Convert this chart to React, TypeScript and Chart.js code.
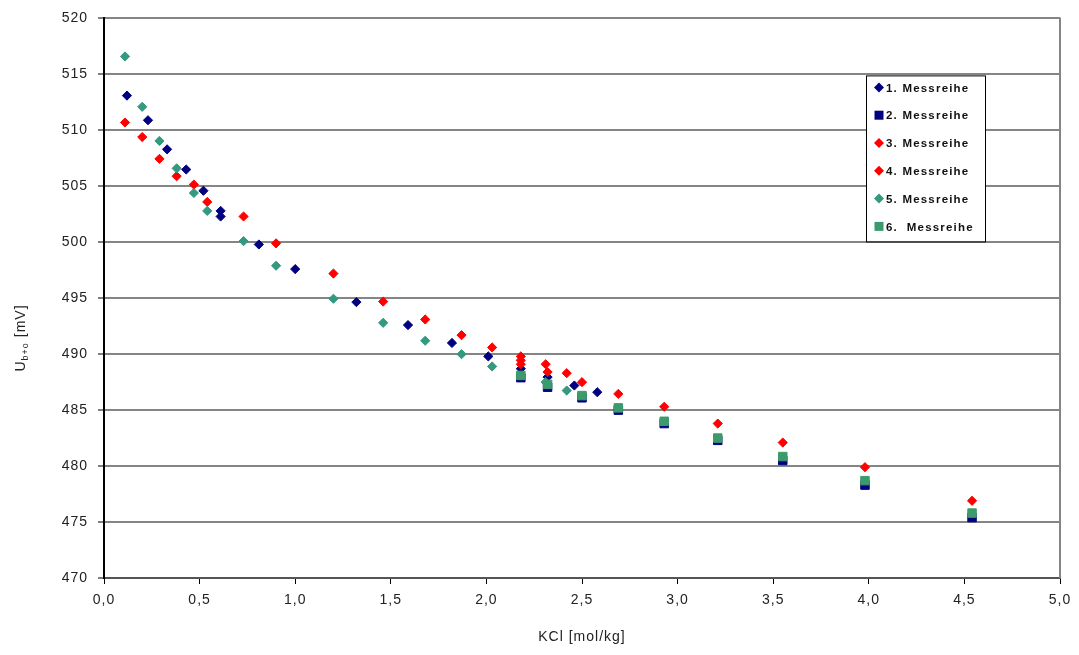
import { useEffect, useRef } from 'react';
import { Chart, registerables } from 'chart.js';

Chart.register(...registerables);

// Series names shown in the legend box
const seriesNames = [
  '1. Messreihe',
  '2. Messreihe',
  '3. Messreihe',
  '4. Messreihe',
  '5. Messreihe',
  '6.  Messreihe',
];

// KCl molality [mol/kg] and measured voltage [mV] for each run
const kcl1 = [0.12, 0.23, 0.33, 0.43, 0.52, 0.61, 0.61, 0.81, 1.0, 1.32, 1.59, 1.82, 2.01, 2.18, 2.32, 2.46, 2.58];
const u1 = [513.1, 510.9, 508.3, 506.5, 504.6, 502.8, 502.3, 499.8, 497.6, 494.65, 492.6, 491.0, 489.8, 488.7, 487.95, 487.2, 486.6];

const kclLate = [2.18, 2.32, 2.5, 2.69, 2.93, 3.21, 3.55, 3.98, 4.54];
const u2 = [487.9, 487.05, 486.1, 485.0, 483.8, 482.3, 480.5, 478.3, 475.4];
const u4 = [489.45, 488.4, 487.5, 486.45, 485.3, 483.8, 482.1, 479.9, 476.9];
const u6 = [488.1, 487.3, 486.3, 485.2, 484.0, 482.5, 480.85, 478.7, 475.8];

const kcl3 = [0.11, 0.2, 0.29, 0.38, 0.47, 0.54, 0.73, 0.9, 1.2, 1.46, 1.68, 1.87, 2.03, 2.18, 2.18, 2.31, 2.42];
const u3 = [510.7, 509.4, 507.45, 505.9, 505.15, 503.6, 502.3, 499.9, 497.2, 494.7, 493.1, 491.7, 490.6, 489.8, 489.1, 489.1, 488.3];

const kcl5 = [0.11, 0.2, 0.29, 0.38, 0.47, 0.54, 0.73, 0.9, 1.2, 1.46, 1.68, 1.87, 2.03, 2.31, 2.42];
const u5 = [516.6, 512.1, 509.05, 506.6, 504.4, 502.8, 500.1, 497.9, 494.95, 492.8, 491.2, 490.0, 488.9, 487.5, 486.75];

// Axis ranges and tick steps
const xRange = [0, 5];
const xStep = 0.5;
const yRange = [470, 520];
const yStep = 5;

const colors = ['#000080', '#000080', '#ff0000', '#ff0000', '#33997f', '#3c9b6c'];
const styles = ['rectRot', 'rect', 'rectRot', 'rectRot', 'rectRot', 'rect'];

const xs = [kcl1, kclLate, kcl3, kclLate, kcl5, kclLate];
const ys = [u1, u2, u3, u4, u5, u6];

const FONT = "'Liberation Sans', Arial, sans-serif";

const decorPlugin = {
  id: 'decor',
  beforeDraw(chart: any) {
    chart.ctx.letterSpacing = '1px';
  },
  afterDraw(chart: any) {
    const { ctx, chartArea } = chart;
    ctx.save();

    // right frame line
    ctx.strokeStyle = '#858585';
    ctx.lineWidth = 2;
    ctx.beginPath();
    ctx.moveTo(chartArea.right, chartArea.top - 1);
    ctx.lineTo(chartArea.right, chartArea.bottom);
    ctx.stroke();

    // y-axis title with subscript
    ctx.fillStyle = '#222';
    ctx.textBaseline = 'alphabetic';
    ctx.textAlign = 'left';
    ctx.letterSpacing = '1px';
    const mainFont = `14px ${FONT}`;
    const subFont = `9px ${FONT}`;
    ctx.font = mainFont;
    const wU = ctx.measureText('U').width;
    const wRest = ctx.measureText(' [mV]').width;
    ctx.font = subFont;
    const wSub = ctx.measureText('b+o').width;
    const total = wU + wSub + wRest;
    ctx.save();
    ctx.translate(25, 338);
    ctx.rotate(-Math.PI / 2);
    let x = -total / 2;
    ctx.font = mainFont;
    ctx.fillText('U', x, 0);
    x += wU;
    ctx.font = subFont;
    ctx.fillText('b+o', x, 3);
    x += wSub;
    ctx.font = mainFont;
    ctx.fillText(' [mV]', x, 0);
    ctx.restore();

    // legend box inside the plot area
    const left = chartArea.right - 194;
    const top = chartArea.top + 57;
    const w = 119;
    const h = 166;
    ctx.fillStyle = '#fff';
    ctx.fillRect(left, top, w, h);
    ctx.strokeStyle = '#000';
    ctx.lineWidth = 1;
    ctx.strokeRect(left + 0.5, top + 0.5, w, h);
    ctx.font = `bold 11.5px ${FONT}`;
    ctx.letterSpacing = '1.2px';
    ctx.textBaseline = 'middle';
    chart.data.datasets.forEach((ds: any, i: number) => {
      const cy = top + 12 + i * 27.8;
      const cx = left + 13;
      ctx.fillStyle = ds.backgroundColor;
      ctx.beginPath();
      if (ds.pointStyle === 'rect') {
        ctx.rect(cx - 4.5, cy - 4.5, 9, 9);
      } else {
        ctx.moveTo(cx - 5, cy);
        ctx.lineTo(cx, cy - 5);
        ctx.lineTo(cx + 5, cy);
        ctx.lineTo(cx, cy + 5);
        ctx.closePath();
      }
      ctx.fill();
      ctx.fillStyle = '#111';
      ctx.fillText(ds.label, left + 20, cy + 1);
    });

    ctx.restore();
  },
};

export default function App() {
  const ref = useRef<HTMLCanvasElement | null>(null);

  useEffect(() => {
    document.body.style.margin = '0';
    const canvas = ref.current;
    if (!canvas) return;

    const datasets = seriesNames.map((name, i) => ({
      label: name,
      data: xs[i].map((v, j) => ({ x: v, y: ys[i][j] })),
      backgroundColor: colors[i],
      borderColor: colors[i],
      borderWidth: 1,
      pointStyle: styles[i],
      pointRadius: styles[i] === 'rect' ? 6 : 4.6,
      showLine: false,
      order: seriesNames.length - i,
    }));

    const chart = new Chart(canvas, {
      type: 'scatter',
      data: { datasets },
      plugins: [decorPlugin],
      options: {
        animation: false,
        responsive: false,
        layout: { padding: { top: 18, right: 19, left: 0, bottom: 0 } },
        plugins: {
          legend: { display: false },
          tooltip: { enabled: false },
        },
        scales: {
          x: {
            type: 'linear',
            min: xRange[0],
            max: xRange[1],
            ticks: {
              stepSize: xStep,
              padding: 8,
              color: '#222',
              font: { family: FONT, size: 14 },
              callback: (v: any) => Number(v).toFixed(1).replace('.', ','),
            },
            grid: {
              drawOnChartArea: false,
              drawTicks: true,
              tickLength: 6,
              tickColor: '#000',
              tickWidth: 1,
            },
            border: { color: '#555', width: 2 },
            title: {
              display: true,
              text: 'KCl [mol/kg]',
              color: '#222',
              font: { family: FONT, size: 14 },
              padding: { top: 0, bottom: 9 },
            },
            afterFit: (s: any) => {
              s.height = 77;
            },
          },
          y: {
            type: 'linear',
            min: yRange[0],
            max: yRange[1],
            ticks: {
              stepSize: yStep,
              padding: 10,
              color: '#222',
              font: { family: FONT, size: 14 },
            },
            grid: {
              color: '#858585',
              lineWidth: 2,
              tickLength: 6,
              tickColor: '#000',
              tickWidth: 1,
            },
            border: { color: '#000', width: 2 },
            afterFit: (s: any) => {
              s.width = 104;
            },
          },
        },
      },
    });

    return () => chart.destroy();
  }, []);

  return <canvas ref={ref} width={1079} height={655} style={{ display: 'block' }} />;
}
